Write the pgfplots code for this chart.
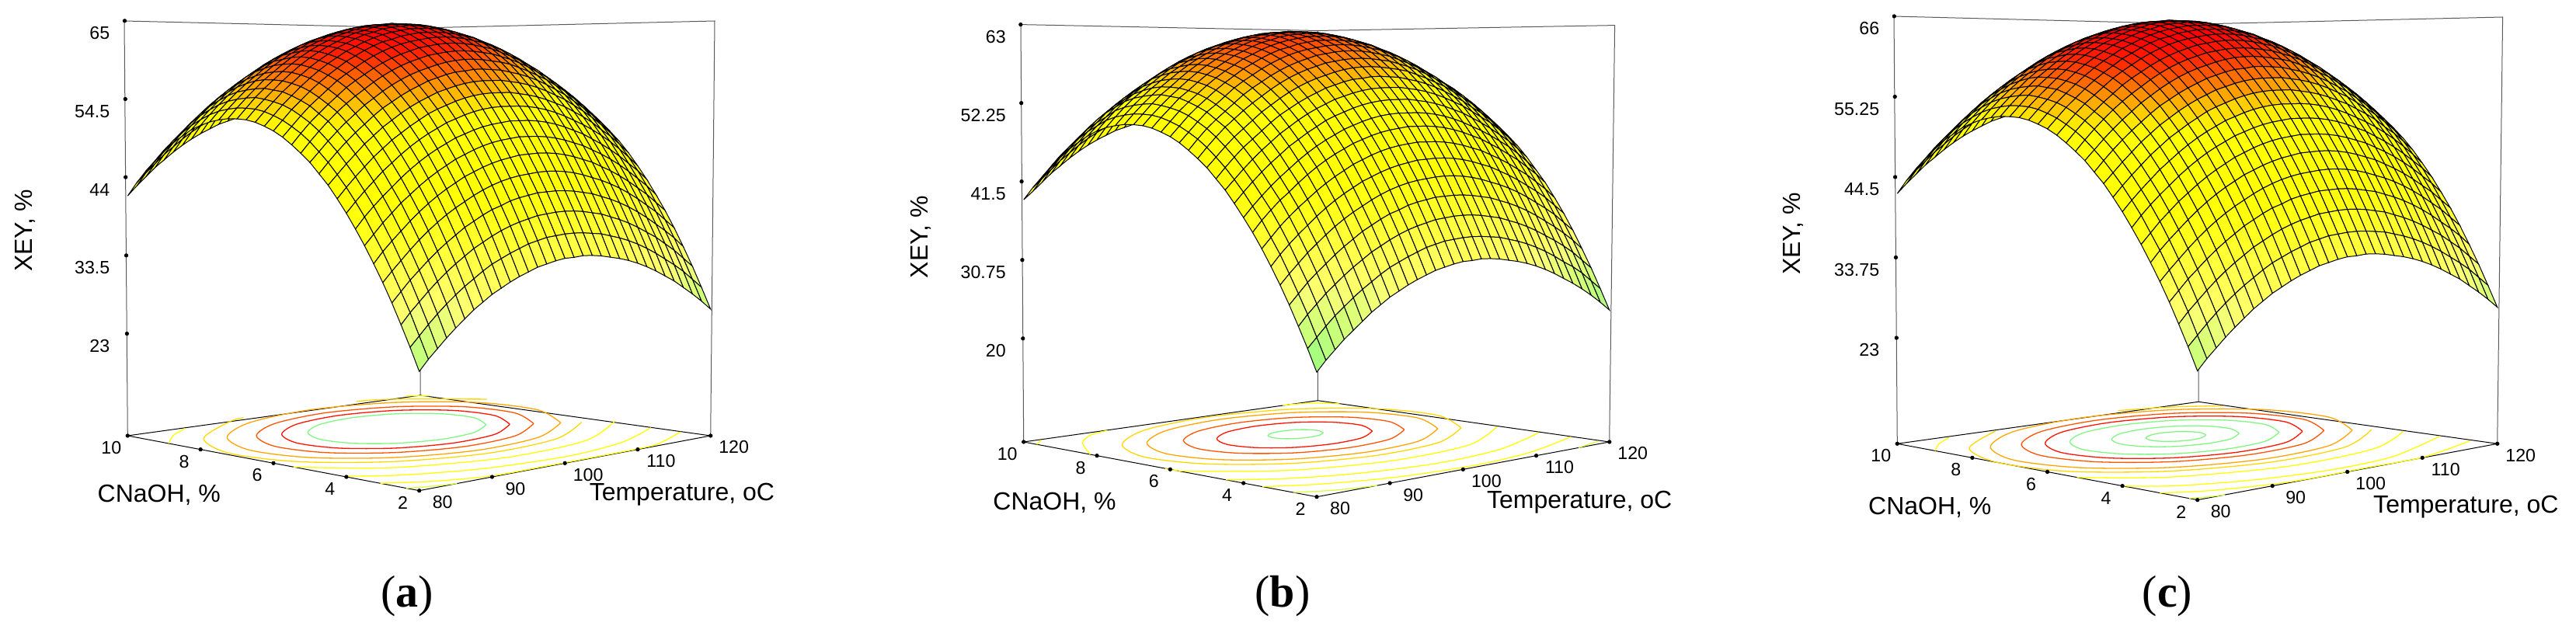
\documentclass[border=0pt]{standalone}
\usepackage{fontspec}
\setmainfont{Liberation Sans}
\newfontfamily\capfont{Liberation Serif}
\usepackage{pgfplots}
\pgfplotsset{compat=1.18}
\definecolor{ctgreen}{RGB}{130,245,130}
\definecolor{ctred}{RGB}{255,20,0}
\definecolor{ctorred}{RGB}{255,85,0}
\definecolor{ctorange}{RGB}{255,165,0}
\definecolor{ctgold}{RGB}{255,215,0}
\definecolor{ctyellow}{RGB}{255,255,0}
\definecolor{ctlime}{RGB}{215,255,60}
\tikzset{lab/.style={anchor=center, yshift=-1.5pt, font=\fontsize{16}{19}\selectfont}}
\pgfplotsset{
  colormap={xey}{rgb255=(120,255,120) rgb255=(153,255,127) rgb255=(181,255,127) rgb255=(204,255,122) rgb255=(225,255,120) rgb255=(245,255,120) rgb255=(255,255,102) rgb255=(255,255,85) rgb255=(255,255,68) rgb255=(255,255,47) rgb255=(255,255,30) rgb255=(255,255,15) rgb255=(255,255,0) rgb255=(255,255,0) rgb255=(255,255,0) rgb255=(255,255,0) rgb255=(255,255,0) rgb255=(255,225,0) rgb255=(255,162,0) rgb255=(255,98,0) rgb255=(255,32,0) rgb255=(255,0,0) rgb255=(255,0,0)},
  xeypanel/.style={
    anchor=origin, clip=false, axis line style={draw=none},
    xmin=80, xmax=120, ymin=2, ymax=10,
    xtick={80,90,100,110,120}, ytick={2,4,6,8,10},
    major tick length=0pt, tick style={draw=none},
    tick label style={font=\fontsize{11.6}{14}\selectfont, /pgf/number format/assume math mode=true},
    xticklabel style={anchor=center, xshift=15pt, yshift=-7.5pt},
    yticklabel style={anchor=center, xshift=-10.5pt, yshift=-7.8pt},
    zticklabel style={anchor=east, xshift=-8pt, yshift=-8pt},
    colormap name=xey, point meta min=22, point meta max=66,
    xlabel={Temperature, oC}, ylabel={CNaOH, \%}, zlabel={XEY, \%},
  },
  ct/.style={no marks, smooth, line width=0.65pt},
  dots/.style={only marks, mark=*, mark size=1.1pt, black},
  surface/.style={surf, shader=faceted, faceted color=black, line width=0.5pt, z buffer=sort, mesh/rows=33, mesh/cols=33},
}
\begin{document}
\begin{tikzpicture}
\useasboundingbox (0,0) rectangle (1658pt,412pt);
% box edges and floor outlines, in pixels of the 3316x824 picture
\begin{scope}[x=0.5pt,y=-0.5pt,yshift=412pt]
  \draw[gray!70!black,line width=0.5pt] (164.3,561) -- (160,27) -- (541,36) -- (920,27) -- (914.7,561) (541,36) -- (541,509);
  \draw[black,line width=0.5pt] (164.3,561) -- (541,509) -- (914.7,561) -- (539.7,631.7) -- cycle;
  \node[font=\capfont\fontsize{29}{34}\selectfont] at (524,768) {(\textbf{a})};
  \draw[gray!70!black,line width=0.5pt] (1317.7,569) -- (1314,31.6) -- (1696,39.5) -- (2078.6,32.6) -- (2071.7,569) (1696,39.5) -- (1696.3,515.7);
  \draw[black,line width=0.5pt] (1317.7,569) -- (1696.3,515.7) -- (2071.7,569) -- (1695,639.7) -- cycle;
  \node[font=\capfont\fontsize{29}{34}\selectfont] at (1651,768) {(\textbf{b})};
  \draw[gray!70!black,line width=0.5pt] (2442.3,571.3) -- (2438,21) -- (2830,31) -- (3221.6,22) -- (3214.7,571.3) (2830,31) -- (2830,517.3);
  \draw[black,line width=0.5pt] (2442.3,571.3) -- (2830,517.3) -- (3214.7,571.3) -- (2828.7,643.7) -- cycle;
  \node[font=\capfont\fontsize{29}{34}\selectfont] at (2790,768) {(\textbf{c})};
\end{scope}

% (a)
\begin{axis}[xeypanel,
  at={(269.85pt,96.15pt)},
  x={(4.6875pt,0.884pt)}, y={(-23.46pt,4.42pt)}, z={(0pt,4.795pt)},
  zmin=9.3, zmax=65, ztick={23,33.5,44,54.5,65}, zticklabels={23,33.5,44,54.5,65},
  every axis x label/.style={at={(axis cs:97.46,-1.72,9.3)},lab},
  every axis y label/.style={at={(axis cs:61.3,5.4,9.3)},lab},
  every axis z label/.style={at={(axis cs:52.96,7.41,44.23)},lab,yshift=1.5pt,rotate=90},
]
\addplot3[dots] coordinates {(80,2,9.3) (90,2,9.3) (100,2,9.3) (110,2,9.3) (120,2,9.3) (80,4,9.3) (80,6,9.3) (80,8,9.3) (80,10,9.3) (79.95,10.01,23) (79.91,10.02,33.5) (79.87,10.03,44) (79.83,10.03,54.5) (79.79,10.04,65)};
\addplot3[ct,ctgreen] coordinates {(108.65,5.89,9.3) (110.32,6.56,9.3) (109.53,7.29,9.3) (106.48,7.9,9.3) (101.99,8.23,9.3) (97.27,8.18,9.3) (93.57,7.77,9.3) (91.9,7.1,9.3) (92.69,6.37,9.3) (95.74,5.76,9.3) (100.23,5.43,9.3) (104.95,5.48,9.3) (108.65,5.89,9.3)};
\addplot3[ct,ctred] coordinates {(110.4,5.59,9.3) (112.54,6.44,9.3) (111.53,7.38,9.3) (107.62,8.16,9.3) (101.88,8.58,9.3) (95.83,8.52,9.3) (91.1,7.99,9.3) (88.96,7.14,9.3) (89.97,6.2,9.3) (93.88,5.42,9.3) (99.62,5,9.3) (105.67,5.06,9.3) (110.4,5.59,9.3)};
\addplot3[ct,ctorred] coordinates {(112.27,5.31,9.3) (114.87,6.35,9.3) (113.64,7.49,9.3) (108.9,8.43,9.3) (101.92,8.95,9.3) (94.58,8.87,9.3) (88.83,8.23,9.3) (86.23,7.19,9.3) (87.46,6.05,9.3) (92.2,5.11,9.3) (99.18,4.59,9.3) (106.52,4.67,9.3) (112.27,5.31,9.3)};
\addplot3[ct,ctorange] coordinates {(114.44,5,9.3) (117.56,6.26,9.3) (116.09,7.62,9.3) (110.38,8.76,9.3) (101.99,9.38,9.3) (93.16,9.28,9.3) (86.24,8.52,9.3) (83.12,7.26,9.3) (84.59,5.9,9.3) (90.3,4.76,9.3) (98.69,4.14,9.3) (107.52,4.24,9.3) (114.44,5,9.3)};
\addplot3[ct,ctgold] coordinates {(116.09,4.76,9.3) (108.25,3.89,9.3) (98.24,3.78,9.3) (88.73,4.48,9.3) (82.26,5.77,9.3) (80.58,7.32,9.3) (84.13,8.74,9.3) (91.97,9.61,9.3) (94.53,9.72,9.3)};
\addplot3[ct,ctgold] coordinates {(117.96,7.73,9.3) (111.49,9.02,9.3) (108.22,9.36,9.3)};
\addplot3[ct,ctyellow] coordinates {(118.76,4.38,9.3) (109.51,3.35,9.3) (97.71,3.23,9.3) (86.48,4.05,9.3) (80,5.45,9.3)};
\addplot3[ct,ctyellow] coordinates {(80,8.87,9.3) (83.2,9.39,9.3) (86.6,9.74,9.3)};
\addplot3[ct,ctyellow] coordinates {(113.6,9.08,9.3) (114.4,8.92,9.3) (115.2,8.76,9.3)};
\addplot3[ct,ctyellow] coordinates {(80.2,4.07,9.3) (83.36,3.52,9.3) (87.52,3.08,9.3) (93.31,2.68,9.3) (102.91,2.47,9.3) (111.41,2.73,9.3) (118.8,3.4,9.3)};
\addplot3[ct,ctyellow] coordinates {(80,3.07,9.3) (84.52,2.48,9.3) (90.33,2.08,9.3) (97.3,2.05,9.3) (104.72,2.04,9.3) (111.17,2.05,9.3) (113.87,2.16,9.3) (119.37,2.69,9.3)};
\addplot3[ct,ctlime] coordinates {(80,2.36,9.3) (81.94,2.18,9.3) (85.2,2,9.3)};
\addplot3[surface] table[x expr={80+1.25*mod(\coordindex,33)}, y expr={2+0.25*floor((\coordindex+0.5)/33)}, z index=0, header=false] {
25.3
26.7
27.9
29.1
30.2
31.2
32.2
33.0
33.8
34.4
35.0
35.5
35.9
36.3
36.5
36.7
36.8
36.7
36.7
36.5
36.2
35.8
35.4
34.9
34.3
33.6
32.8
31.9
31.0
29.9
28.8
27.6
26.3
28.3
29.6
30.9
32.1
33.2
34.2
35.1
35.9
36.7
37.4
37.9
38.4
38.8
39.2
39.4
39.6
39.6
39.6
39.5
39.3
39.0
38.7
38.2
37.7
37.1
36.4
35.6
34.7
33.7
32.7
31.6
30.3
29.0
31.1
32.5
33.7
34.9
36.0
37.0
37.9
38.7
39.5
40.1
40.7
41.2
41.6
41.9
42.1
42.3
42.3
42.3
42.2
42.0
41.7
41.3
40.9
40.3
39.7
39.0
38.2
37.3
36.4
35.3
34.2
32.9
31.6
33.8
35.1
36.4
37.5
38.6
39.6
40.5
41.3
42.1
42.7
43.3
43.8
44.1
44.5
44.7
44.8
44.9
44.8
44.7
44.5
44.2
43.8
43.4
42.8
42.2
41.5
40.7
39.8
38.8
37.7
36.6
35.4
34.0
36.3
37.6
38.8
40.0
41.1
42.1
43.0
43.8
44.5
45.1
45.7
46.2
46.6
46.9
47.1
47.2
47.2
47.2
47.1
46.9
46.6
46.2
45.7
45.1
44.5
43.8
43.0
42.1
41.1
40.0
38.9
37.6
36.3
38.6
40.0
41.2
42.3
43.4
44.4
45.3
46.1
46.8
47.4
48.0
48.4
48.8
49.1
49.3
49.4
49.5
49.4
49.3
49.1
48.8
48.4
47.9
47.3
46.7
45.9
45.1
44.2
43.2
42.1
41.0
39.7
38.4
40.8
42.1
43.4
44.5
45.6
46.5
47.4
48.2
48.9
49.5
50.1
50.5
50.9
51.2
51.4
51.5
51.5
51.5
51.3
51.1
50.8
50.4
49.9
49.3
48.7
47.9
47.1
46.2
45.2
44.1
42.9
41.7
40.3
42.8
44.2
45.4
46.5
47.5
48.5
49.4
50.2
50.9
51.5
52.0
52.5
52.8
53.1
53.3
53.4
53.4
53.4
53.2
53.0
52.7
52.3
51.8
51.2
50.5
49.8
48.9
48.0
47.0
45.9
44.7
43.5
42.1
44.7
46.0
47.2
48.3
49.4
50.3
51.2
52.0
52.7
53.3
53.8
54.3
54.6
54.9
55.1
55.2
55.2
55.1
54.9
54.7
54.4
54.0
53.5
52.9
52.2
51.4
50.6
49.7
48.7
47.6
46.4
45.1
43.7
46.4
47.7
48.9
50.0
51.1
52.0
52.9
53.6
54.3
54.9
55.5
55.9
56.2
56.5
56.7
56.8
56.8
56.7
56.5
56.3
55.9
55.5
55.0
54.4
53.7
53.0
52.1
51.2
50.2
49.0
47.9
46.6
45.2
48.0
49.2
50.4
51.5
52.6
53.5
54.4
55.1
55.8
56.4
56.9
57.3
57.7
57.9
58.1
58.2
58.2
58.1
57.9
57.7
57.3
56.9
56.4
55.8
55.1
54.3
53.5
52.5
51.5
50.4
49.2
47.9
46.5
49.3
50.6
51.8
52.9
53.9
54.8
55.7
56.5
57.1
57.7
58.2
58.6
59.0
59.2
59.4
59.5
59.4
59.4
59.2
58.9
58.6
58.1
57.6
57.0
56.3
55.5
54.6
53.7
52.6
51.5
50.3
49.0
47.6
50.6
51.8
53.0
54.1
55.1
56.0
56.9
57.6
58.3
58.9
59.4
59.8
60.1
60.3
60.5
60.6
60.6
60.5
60.3
60.0
59.6
59.2
58.7
58.0
57.3
56.5
55.7
54.7
53.7
52.5
51.3
50.0
48.6
51.6
52.9
54.1
55.2
56.2
57.1
57.9
58.6
59.3
59.9
60.4
60.8
61.1
61.3
61.5
61.5
61.5
61.4
61.2
60.9
60.5
60.1
59.5
58.9
58.2
57.4
56.5
55.6
54.5
53.4
52.2
50.9
49.5
52.5
53.8
55.0
56.0
57.0
57.9
58.8
59.5
60.1
60.7
61.2
61.6
61.9
62.1
62.3
62.3
62.3
62.2
62.0
61.7
61.3
60.8
60.3
59.6
58.9
58.1
57.2
56.3
55.2
54.1
52.8
51.5
50.1
53.3
54.5
55.7
56.8
57.7
58.6
59.5
60.2
60.8
61.4
61.9
62.3
62.6
62.8
62.9
62.9
62.9
62.8
62.6
62.3
61.9
61.4
60.9
60.2
59.5
58.7
57.8
56.8
55.7
54.6
53.4
52.0
50.6
53.9
55.1
56.3
57.3
58.3
59.2
60.0
60.7
61.4
61.9
62.4
62.8
63.1
63.2
63.4
63.4
63.4
63.2
63.0
62.7
62.3
61.8
61.3
60.6
59.9
59.1
58.2
57.2
56.1
54.9
53.7
52.4
51.0
54.3
55.5
56.7
57.7
58.7
59.6
60.4
61.1
61.7
62.3
62.7
63.1
63.4
63.6
63.7
63.7
63.7
63.5
63.3
63.0
62.6
62.1
61.5
60.9
60.1
59.3
58.4
57.4
56.3
55.1
53.9
52.6
51.1
54.6
55.8
56.9
58.0
58.9
59.8
60.6
61.3
61.9
62.5
62.9
63.3
63.6
63.7
63.9
63.9
63.8
63.7
63.4
63.1
62.7
62.2
61.6
61.0
60.2
59.4
58.5
57.5
56.4
55.2
53.9
52.6
51.2
54.7
55.9
57.0
58.0
59.0
59.9
60.7
61.4
62.0
62.5
62.9
63.3
63.6
63.7
63.9
63.9
63.8
63.6
63.4
63.1
62.7
62.2
61.6
60.9
60.1
59.3
58.4
57.4
56.3
55.1
53.8
52.5
51.0
54.6
55.8
57.0
58.0
58.9
59.8
60.6
61.3
61.9
62.4
62.8
63.2
63.4
63.6
63.7
63.7
63.6
63.5
63.2
62.9
62.5
61.9
61.4
60.7
59.9
59.1
58.1
57.1
56.0
54.8
53.5
52.2
50.7
54.4
55.6
56.7
57.7
58.7
59.5
60.3
61.0
61.6
62.1
62.5
62.9
63.1
63.3
63.4
63.4
63.3
63.1
62.9
62.5
62.1
61.6
61.0
60.3
59.5
58.6
57.7
56.7
55.6
54.4
53.1
51.7
50.3
54.0
55.2
56.3
57.3
58.3
59.1
59.9
60.5
61.1
61.6
62.1
62.4
62.6
62.8
62.9
62.9
62.8
62.6
62.3
62.0
61.6
61.0
60.4
59.7
58.9
58.1
57.1
56.1
55.0
53.8
52.5
51.1
49.6
53.5
54.7
55.8
56.8
57.7
58.5
59.3
60.0
60.6
61.0
61.5
61.8
62.0
62.2
62.3
62.2
62.1
62.0
61.7
61.3
60.9
60.3
59.7
59.0
58.2
57.4
56.4
55.4
54.2
53.0
51.7
50.3
48.9
52.8
54.0
55.1
56.1
57.0
57.8
58.6
59.2
59.8
60.3
60.7
61.0
61.2
61.4
61.5
61.4
61.3
61.1
60.8
60.5
60.0
59.5
58.9
58.1
57.4
56.5
55.5
54.5
53.3
52.1
50.8
49.4
47.9
52.0
53.1
54.2
55.2
56.1
56.9
57.7
58.3
58.9
59.4
59.8
60.1
60.3
60.4
60.5
60.5
60.3
60.1
59.9
59.5
59.0
58.5
57.8
57.1
56.3
55.4
54.5
53.4
52.3
51.0
49.7
48.3
46.8
50.9
52.1
53.2
54.2
55.1
55.9
56.6
57.2
57.8
58.3
58.7
59.0
59.2
59.3
59.4
59.3
59.2
59.0
58.7
58.3
57.9
57.3
56.7
55.9
55.1
54.2
53.2
52.2
51.0
49.8
48.5
47.1
45.6
49.8
50.9
52.0
53.0
53.9
54.7
55.4
56.0
56.6
57.0
57.4
57.7
57.9
58.1
58.1
58.1
57.9
57.7
57.4
57.0
56.5
56.0
55.3
54.6
53.8
52.9
51.9
50.8
49.6
48.4
47.1
45.7
44.2
48.4
49.6
50.6
51.6
52.5
53.3
54.0
54.6
55.2
55.6
56.0
56.3
56.5
56.6
56.7
56.6
56.5
56.2
55.9
55.5
55.0
54.5
53.8
53.1
52.2
51.3
50.3
49.3
48.1
46.8
45.5
44.1
42.6
46.9
48.1
49.1
50.1
51.0
51.8
52.5
53.1
53.6
54.1
54.4
54.7
54.9
55.0
55.1
55.0
54.8
54.6
54.3
53.9
53.4
52.8
52.2
51.4
50.6
49.7
48.7
47.6
46.4
45.1
43.8
42.4
40.8
45.3
46.4
47.5
48.4
49.3
50.1
50.8
51.4
51.9
52.4
52.7
53.0
53.2
53.3
53.3
53.2
53.1
52.8
52.5
52.1
51.6
51.0
50.3
49.6
48.7
47.8
46.8
45.7
44.5
43.3
41.9
40.5
38.9
43.5
44.6
45.6
46.6
47.4
48.2
48.9
49.5
50.0
50.5
50.8
51.1
51.3
51.4
51.4
51.3
51.1
50.9
50.6
50.1
49.6
49.0
48.4
47.6
46.7
45.8
44.8
43.7
42.5
41.2
39.9
38.4
36.9
41.5
42.6
43.6
44.6
45.4
46.2
46.9
47.5
48.0
48.4
48.8
49.0
49.2
49.3
49.3
49.2
49.0
48.8
48.4
48.0
47.5
46.9
46.2
45.4
44.6
43.6
42.6
41.5
40.3
39.0
37.7
36.2
34.7
};
\end{axis}

% (b)
\begin{axis}[xeypanel,
  at={(847.5pt,92.15pt)},
  x={(4.709pt,0.884pt)}, y={(-23.58pt,4.42pt)}, z={(0pt,4.7pt)},
  zmin=5.83, zmax=63, ztick={20,30.75,41.5,52.25,63}, zticklabels={20,30.75,41.5,52.25,63},
  every axis x label/.style={at={(axis cs:96.73,-1.83,5.83)},lab},
  every axis y label/.style={at={(axis cs:60.9,5.34,5.83)},lab},
  every axis z label/.style={at={(axis cs:52.95,7.41,41.44)},lab,yshift=1.5pt,rotate=90},
]
\addplot3[dots] coordinates {(80,2,5.83) (90,2,5.83) (100,2,5.83) (110,2,5.83) (120,2,5.83) (80,4,5.83) (80,6,5.83) (80,8,5.83) (80,10,5.83) (79.95,10.01,20) (79.91,10.02,30.75) (79.87,10.03,41.5) (79.83,10.03,52.25) (79.79,10.04,63)};
\addplot3[ct,ctgreen] coordinates {(103.77,6.57,5.83) (104.25,6.77,5.83) (103.97,6.99,5.83) (103,7.17,5.83) (101.6,7.26,5.83) (100.14,7.25,5.83) (99.03,7.13,5.83) (98.55,6.93,5.83) (98.83,6.71,5.83) (99.8,6.53,5.83) (101.2,6.44,5.83) (102.66,6.45,5.83) (103.77,6.57,5.83)};
\addplot3[ct,ctred] coordinates {(107.77,6.03,5.83) (109.13,6.59,5.83) (108.33,7.2,5.83) (105.58,7.72,5.83) (101.61,7.98,5.83) (97.49,7.94,5.83) (94.33,7.59,5.83) (92.97,7.03,5.83) (93.77,6.42,5.83) (96.52,5.9,5.83) (100.49,5.64,5.83) (104.61,5.68,5.83) (107.77,6.03,5.83)};
\addplot3[ct,ctorred] coordinates {(110.45,5.69,5.83) (112.38,6.49,5.83) (111.25,7.35,5.83) (107.34,8.09,5.83) (101.71,8.46,5.83) (95.85,8.4,5.83) (91.37,7.91,5.83) (89.44,7.11,5.83) (90.57,6.25,5.83) (94.48,5.51,5.83) (100.11,5.14,5.83) (105.97,5.2,5.83) (110.45,5.69,5.83)};
\addplot3[ct,ctorange] coordinates {(113.12,5.31,5.83) (115.66,6.36,5.83) (114.16,7.5,5.83) (109.02,8.46,5.83) (101.6,8.96,5.83) (93.89,8.88,5.83) (87.98,8.23,5.83) (85.44,7.18,5.83) (86.94,6.04,5.83) (92.08,5.08,5.83) (99.5,4.58,5.83) (107.21,4.66,5.83) (113.12,5.31,5.83)};
\addplot3[ct,ctgold] coordinates {(115,5.05,5.83) (117.96,6.27,5.83) (116.22,7.6,5.83) (110.23,8.72,5.83) (101.57,9.3,5.83) (92.59,9.21,5.83) (85.7,8.45,5.83) (82.74,7.23,5.83) (84.48,5.9,5.83) (90.47,4.78,5.83) (99.13,4.2,5.83) (108.11,4.29,5.83) (115,5.05,5.83)};
\addplot3[ct,ctyellow] coordinates {(117.98,4.66,5.83) (109.31,3.7,5.83) (98.35,3.6,5.83) (87.79,4.3,5.83) (80.48,5.67,5.83) (80,6.13,5.83)};
\addplot3[ct,ctyellow] coordinates {(80,8.18,5.83) (83.74,9.14,5.83) (87.15,9.59,5.83) (89.9,9.69,5.83)};
\addplot3[ct,ctyellow] coordinates {(111.08,9.14,5.83) (113.87,8.88,5.83) (115.45,8.45,5.83)};
\addplot3[ct,ctyellow] coordinates {(80,4.48,5.83) (84.74,3.73,5.83) (91.52,3.14,5.83) (100.48,2.8,5.83) (109.71,2.95,5.83) (118.48,3.63,5.83)};
\addplot3[ct,ctyellow] coordinates {(80,3.48,5.83) (84.91,2.88,5.83) (92.84,2.34,5.83) (102.45,2.14,5.83) (110.87,2.33,5.83) (119.13,2.89,5.83)};
\addplot3[ct,ctlime] coordinates {(80,2.64,5.83) (83.79,2.23,5.83) (88.27,2,5.83)};
\addplot3[ct,ctlime] coordinates {(115.79,2,5.83) (119.4,2.2,5.83)};
\addplot3[ct,ctyellow] coordinates {(80,9.64,5.83) (81.84,9.89,5.83)};
\addplot3[surface] table[x expr={80+1.25*mod(\coordindex,33)}, y expr={2+0.25*floor((\coordindex+0.5)/33)}, z index=0, header=false] {
22.9
24.3
25.5
26.7
27.7
28.7
29.7
30.5
31.3
31.9
32.5
33.0
33.4
33.8
34.0
34.2
34.3
34.2
34.2
34.0
33.7
33.3
32.9
32.4
31.8
31.1
30.3
29.4
28.5
27.5
26.4
25.2
23.9
25.9
27.2
28.5
29.7
30.7
31.7
32.6
33.4
34.2
34.9
35.4
35.9
36.3
36.7
36.9
37.1
37.1
37.1
37.0
36.8
36.5
36.2
35.7
35.2
34.6
33.9
33.1
32.2
31.2
30.3
29.2
27.9
26.6
28.7
30.1
31.3
32.5
33.5
34.5
35.4
36.2
37.0
37.6
38.2
38.7
39.1
39.4
39.6
39.8
39.8
39.8
39.7
39.5
39.2
38.8
38.4
37.8
37.2
36.5
35.7
34.8
33.9
32.9
31.8
30.5
29.2
31.4
32.7
34.0
35.1
36.1
37.1
38.0
38.8
39.6
40.2
40.8
41.3
41.6
42.0
42.2
42.3
42.4
42.3
42.2
42.0
41.7
41.3
40.9
40.3
39.7
39.0
38.2
37.3
36.3
35.3
34.2
33.0
31.6
33.9
35.2
36.4
37.6
38.6
39.6
40.5
41.3
42.0
42.6
43.2
43.7
44.1
44.4
44.6
44.7
44.7
44.7
44.6
44.4
44.1
43.7
43.2
42.6
42.0
41.3
40.5
39.6
38.6
37.6
36.5
35.2
33.9
36.2
37.6
38.8
39.9
40.9
41.9
42.8
43.6
44.3
44.9
45.5
45.9
46.3
46.6
46.8
46.9
47.0
46.9
46.8
46.6
46.3
45.9
45.4
44.8
44.2
43.4
42.6
41.7
40.7
39.7
38.6
37.3
36.0
38.4
39.7
41.0
42.1
43.1
44.0
44.9
45.7
46.4
47.0
47.6
48.0
48.4
48.7
48.9
49.0
49.0
49.0
48.8
48.6
48.3
47.9
47.4
46.8
46.2
45.4
44.6
43.7
42.7
41.7
40.5
39.3
37.9
40.4
41.8
43.0
44.1
45.0
46.0
46.9
47.7
48.4
49.0
49.5
50.0
50.3
50.6
50.8
50.9
50.9
50.9
50.7
50.5
50.2
49.8
49.3
48.7
48.0
47.3
46.4
45.5
44.5
43.5
42.3
41.1
39.7
42.2
43.5
44.7
45.8
46.8
47.7
48.6
49.4
50.1
50.7
51.2
51.7
52.0
52.3
52.5
52.6
52.6
52.5
52.3
52.1
51.8
51.4
50.9
50.3
49.6
48.8
48.0
47.1
46.1
45.1
43.9
42.6
41.2
43.9
45.2
46.4
47.5
48.5
49.4
50.3
51.0
51.7
52.3
52.9
53.3
53.6
53.9
54.1
54.2
54.2
54.1
53.9
53.7
53.3
52.9
52.4
51.8
51.1
50.4
49.5
48.6
47.6
46.5
45.4
44.1
42.7
45.5
46.7
47.9
49.0
50.0
50.9
51.8
52.5
53.2
53.8
54.3
54.7
55.1
55.3
55.5
55.6
55.6
55.5
55.3
55.1
54.7
54.3
53.8
53.2
52.5
51.7
50.9
49.9
48.9
47.9
46.7
45.4
44.0
46.8
48.1
49.3
50.4
51.3
52.2
53.1
53.9
54.5
55.1
55.6
56.0
56.4
56.6
56.8
56.9
56.8
56.8
56.6
56.3
56.0
55.5
55.0
54.4
53.7
52.9
52.0
51.1
50.0
49.0
47.8
46.5
45.1
48.1
49.3
50.5
51.6
52.5
53.4
54.3
55.0
55.7
56.3
56.8
57.2
57.5
57.7
57.9
58.0
58.0
57.9
57.7
57.4
57.0
56.6
56.1
55.4
54.7
53.9
53.1
52.1
51.1
50.0
48.8
47.5
46.1
49.1
50.4
51.6
52.7
53.6
54.5
55.3
56.0
56.7
57.3
57.8
58.2
58.5
58.7
58.9
58.9
58.9
58.8
58.6
58.3
57.9
57.5
56.9
56.3
55.6
54.8
53.9
53.0
51.9
50.9
49.7
48.4
47.0
50.0
51.3
52.5
53.5
54.4
55.3
56.2
56.9
57.5
58.1
58.6
59.0
59.3
59.5
59.7
59.7
59.7
59.6
59.4
59.1
58.7
58.2
57.7
57.0
56.3
55.5
54.6
53.7
52.6
51.6
50.3
49.0
47.6
50.8
52.0
53.2
54.3
55.1
56.0
56.9
57.6
58.2
58.8
59.3
59.7
60.0
60.2
60.3
60.3
60.3
60.2
60.0
59.7
59.3
58.8
58.3
57.6
56.9
56.1
55.2
54.2
53.1
52.1
50.9
49.5
48.1
51.4
52.6
53.8
54.8
55.7
56.6
57.4
58.1
58.8
59.3
59.8
60.2
60.5
60.6
60.8
60.8
60.8
60.6
60.4
60.1
59.7
59.2
58.7
58.0
57.3
56.5
55.6
54.6
53.5
52.4
51.2
49.9
48.5
51.8
53.0
54.2
55.2
56.1
57.0
57.8
58.5
59.1
59.7
60.1
60.5
60.8
61.0
61.1
61.1
61.1
60.9
60.7
60.4
60.0
59.5
58.9
58.3
57.5
56.7
55.8
54.8
53.7
52.6
51.4
50.1
48.6
52.1
53.3
54.4
55.5
56.3
57.2
58.0
58.7
59.3
59.9
60.3
60.7
61.0
61.1
61.3
61.3
61.2
61.1
60.8
60.5
60.1
59.6
59.0
58.4
57.6
56.8
55.9
54.9
53.8
52.7
51.4
50.1
48.7
52.2
53.4
54.5
55.5
56.4
57.3
58.1
58.8
59.4
59.9
60.3
60.7
61.0
61.1
61.3
61.3
61.2
61.0
60.8
60.5
60.1
59.6
59.0
58.3
57.5
56.7
55.8
54.8
53.7
52.6
51.3
50.0
48.5
52.1
53.3
54.5
55.5
56.3
57.2
58.0
58.7
59.3
59.8
60.2
60.6
60.8
61.0
61.1
61.1
61.0
60.9
60.6
60.3
59.9
59.3
58.8
58.1
57.3
56.5
55.5
54.5
53.4
52.3
51.0
49.7
48.2
51.9
53.1
54.2
55.2
56.1
56.9
57.7
58.4
59.0
59.5
59.9
60.3
60.5
60.7
60.8
60.8
60.7
60.5
60.3
59.9
59.5
59.0
58.4
57.7
56.9
56.0
55.1
54.1
53.0
51.9
50.6
49.2
47.8
51.5
52.7
53.8
54.8
55.7
56.5
57.3
57.9
58.5
59.0
59.5
59.8
60.0
60.2
60.3
60.3
60.2
60.0
59.7
59.4
59.0
58.4
57.8
57.1
56.3
55.5
54.5
53.5
52.4
51.3
50.0
48.6
47.1
51.0
52.2
53.3
54.3
55.1
55.9
56.7
57.4
58.0
58.4
58.9
59.2
59.4
59.6
59.7
59.6
59.5
59.4
59.1
58.7
58.3
57.7
57.1
56.4
55.6
54.8
53.8
52.8
51.6
50.5
49.2
47.8
46.4
50.3
51.5
52.6
53.6
54.4
55.2
56.0
56.6
57.2
57.7
58.1
58.4
58.6
58.8
58.9
58.8
58.7
58.5
58.2
57.9
57.4
56.9
56.3
55.5
54.8
53.9
52.9
51.9
50.7
49.6
48.3
46.9
45.4
49.4
50.5
51.5
52.6
53.4
54.2
55.0
55.6
56.2
56.7
57.1
57.4
57.6
57.7
57.8
57.8
57.6
57.4
57.2
56.8
56.3
55.8
55.1
54.4
53.6
52.7
51.8
50.7
49.6
48.4
47.1
45.7
44.3
48.3
49.5
50.5
51.6
52.4
53.2
53.9
54.5
55.1
55.6
56.0
56.3
56.5
56.6
56.7
56.6
56.5
56.3
56.0
55.6
55.2
54.6
54.0
53.2
52.4
51.5
50.5
49.5
48.3
47.2
45.9
44.5
43.0
47.2
48.3
49.4
50.4
51.2
52.0
52.7
53.3
53.9
54.3
54.7
55.0
55.2
55.4
55.4
55.4
55.2
55.0
54.7
54.3
53.8
53.3
52.6
51.9
51.1
50.2
49.2
48.1
46.9
45.8
44.5
43.1
41.6
45.8
47.0
48.0
49.0
49.8
50.6
51.3
51.9
52.5
52.9
53.3
53.6
53.8
53.9
54.0
53.9
53.8
53.5
53.2
52.8
52.3
51.8
51.1
50.4
49.5
48.6
47.6
46.6
45.4
44.2
42.9
41.5
39.9
44.3
45.5
46.5
47.5
48.3
49.1
49.8
50.4
50.9
51.4
51.7
52.0
52.2
52.3
52.4
52.3
52.1
51.9
51.6
51.2
50.7
50.1
49.5
48.7
47.9
47.0
46.0
44.9
43.7
42.6
41.3
39.9
38.3
42.6
43.7
44.8
45.7
46.5
47.3
48.0
48.6
49.1
49.6
49.9
50.2
50.4
50.5
50.5
50.4
50.3
50.1
49.8
49.4
48.9
48.3
47.6
46.9
46.0
45.1
44.1
43.0
41.8
40.6
39.3
37.8
36.3
40.9
41.9
42.9
43.9
44.7
45.5
46.2
46.8
47.3
47.7
48.1
48.3
48.5
48.6
48.6
48.5
48.3
48.1
47.7
47.3
46.8
46.2
45.5
44.7
43.9
42.9
41.9
40.8
39.6
38.4
37.1
35.6
34.1
39.0
39.9
40.9
41.9
42.7
43.5
44.2
44.8
45.3
45.7
46.1
46.3
46.5
46.6
46.6
46.5
46.3
46.1
45.7
45.3
44.8
44.2
43.5
42.7
41.9
40.9
39.9
38.8
37.6
36.4
35.1
33.6
32.1
};
\end{axis}

% (c)
\begin{axis}[xeypanel,
  at={(1414.35pt,90.15pt)},
  x={(4.825pt,0.905pt)}, y={(-24.15pt,4.525pt)}, z={(0pt,4.815pt)},
  zmin=8.85, zmax=66, ztick={23,33.75,44.5,55.25,66}, zticklabels={23,33.75,44.5,55.25,66},
  every axis x label/.style={at={(axis cs:96.15,-1.93,8.85)},lab},
  every axis y label/.style={at={(axis cs:60.43,5.22,8.85)},lab},
  every axis z label/.style={at={(axis cs:53.07,7.39,44.44)},lab,yshift=1.5pt,rotate=90},
]
\addplot3[dots] coordinates {(80,2,8.85) (90,2,8.85) (100,2,8.85) (110,2,8.85) (120,2,8.85) (80,4,8.85) (80,6,8.85) (80,8,8.85) (80,10,8.85) (79.95,10.01,23) (79.91,10.02,33.75) (79.87,10.03,44.5) (79.83,10.03,55.25) (79.79,10.04,66)};
\addplot3[ct,ctgreen] coordinates {(103.65,6.5,8.85) (104.16,6.71,8.85) (103.87,6.94,8.85) (102.85,7.14,8.85) (101.37,7.25,8.85) (99.84,7.23,8.85) (98.65,7.1,8.85) (98.14,6.89,8.85) (98.43,6.66,8.85) (99.45,6.46,8.85) (100.93,6.35,8.85) (102.46,6.37,8.85) (103.65,6.5,8.85)};
\addplot3[ct,ctgreen] coordinates {(106.47,6.18,8.85) (107.57,6.62,8.85) (106.94,7.12,8.85) (104.78,7.54,8.85) (101.65,7.76,8.85) (98.4,7.74,8.85) (95.89,7.46,8.85) (94.79,7.02,8.85) (95.42,6.52,8.85) (97.58,6.1,8.85) (100.71,5.88,8.85) (103.96,5.9,8.85) (106.47,6.18,8.85)};
\addplot3[ct,ctgreen] coordinates {(109.56,5.73,8.85) (111.37,6.46,8.85) (110.34,7.28,8.85) (106.78,7.97,8.85) (101.62,8.33,8.85) (96.27,8.29,8.85) (92.14,7.83,8.85) (90.33,7.1,8.85) (91.36,6.28,8.85) (94.92,5.59,8.85) (100.08,5.23,8.85) (105.43,5.27,8.85) (109.56,5.73,8.85)};
\addplot3[ct,ctred] coordinates {(111.43,5.48,8.85) (113.65,6.37,8.85) (112.39,7.38,8.85) (108.01,8.23,8.85) (101.67,8.68,8.85) (95.09,8.63,8.85) (90.01,8.06,8.85) (87.79,7.17,8.85) (89.05,6.16,8.85) (93.43,5.31,8.85) (99.77,4.86,8.85) (106.35,4.91,8.85) (111.43,5.48,8.85)};
\addplot3[ct,ctorred] coordinates {(113.15,5.25,8.85) (115.76,6.3,8.85) (114.28,7.49,8.85) (109.13,8.49,8.85) (101.68,9.01,8.85) (93.96,8.95,8.85) (87.99,8.29,8.85) (85.38,7.24,8.85) (86.86,6.05,8.85) (92.01,5.05,8.85) (99.46,4.53,8.85) (107.18,4.59,8.85) (113.15,5.25,8.85)};
\addplot3[ct,ctorange] coordinates {(115.12,4.89,8.85) (118.24,6.15,8.85) (116.47,7.57,8.85) (110.32,8.76,8.85) (101.42,9.39,8.85) (92.19,9.32,8.85) (85.06,8.53,8.85) (81.94,7.27,8.85) (83.71,5.85,8.85) (89.86,4.66,8.85) (98.76,4.03,8.85) (107.99,4.1,8.85) (115.12,4.89,8.85)};
\addplot3[ct,ctgold] coordinates {(116.56,4.67,8.85) (108.63,3.79,8.85) (98.37,3.71,8.85) (88.48,4.41,8.85) (81.64,5.73,8.85) (80,7.31,8.85) (83.14,8.71,8.85) (91.07,9.59,8.85)};
\addplot3[ct,ctgold] coordinates {(115.16,8.36,8.85) (111.22,8.97,8.85) (106.51,9.41,8.85)};
\addplot3[ct,ctyellow] coordinates {(118.02,4.12,8.85) (109.83,3.28,8.85) (97.83,3.19,8.85) (86.26,4,8.85) (80,5.21,8.85)};
\addplot3[ct,ctyellow] coordinates {(80,8.99,8.85) (82.56,9.41,8.85) (85.65,9.75,8.85)};
\addplot3[ct,ctyellow] coordinates {(80,3.98,8.85) (83.54,3.3,8.85) (90.79,2.68,8.85) (99.57,2.36,8.85) (108.46,2.48,8.85) (118.82,3.3,8.85)};
\addplot3[ct,ctyellow] coordinates {(80,3,8.85) (84.53,2.47,8.85) (92.83,2.05,8.85) (103.13,2.04,8.85) (110.34,2.03,8.85) (119.17,2.57,8.85)};
\addplot3[ct,ctlime] coordinates {(80,2.22,8.85) (81.61,2.09,8.85) (83.63,2,8.85)};
\addplot3[surface] table[x expr={80+1.25*mod(\coordindex,33)}, y expr={2+0.25*floor((\coordindex+0.5)/33)}, z index=0, header=false] {
26.1
27.5
28.7
29.9
31.0
32.0
33.0
33.8
34.6
35.2
35.8
36.3
36.7
37.1
37.3
37.5
37.6
37.5
37.5
37.3
37.0
36.6
36.2
35.7
35.1
34.4
33.6
32.7
31.8
30.7
29.6
28.4
27.1
29.1
30.4
31.7
32.9
34.0
35.0
35.9
36.7
37.5
38.2
38.7
39.2
39.6
40.0
40.2
40.4
40.4
40.4
40.3
40.1
39.8
39.5
39.0
38.5
37.9
37.2
36.4
35.5
34.5
33.5
32.4
31.1
29.8
31.9
33.3
34.5
35.7
36.8
37.8
38.7
39.5
40.3
40.9
41.5
42.0
42.4
42.7
42.9
43.1
43.1
43.1
43.0
42.8
42.5
42.1
41.7
41.1
40.5
39.8
39.0
38.1
37.2
36.1
35.0
33.7
32.4
34.6
35.9
37.2
38.3
39.4
40.4
41.3
42.1
42.9
43.5
44.1
44.6
44.9
45.3
45.5
45.6
45.7
45.6
45.5
45.3
45.0
44.6
44.2
43.6
43.0
42.3
41.5
40.6
39.6
38.5
37.4
36.2
34.8
37.1
38.4
39.6
40.8
41.9
42.9
43.8
44.6
45.3
45.9
46.5
47.0
47.4
47.7
47.9
48.0
48.0
48.0
47.9
47.7
47.4
47.0
46.5
45.9
45.3
44.6
43.8
42.9
41.9
40.8
39.7
38.4
37.1
39.4
40.8
42.0
43.1
44.2
45.2
46.1
46.9
47.6
48.2
48.8
49.2
49.6
49.9
50.1
50.2
50.3
50.2
50.1
49.9
49.6
49.2
48.7
48.1
47.5
46.7
45.9
45.0
44.0
42.9
41.8
40.5
39.2
41.6
42.9
44.2
45.3
46.4
47.3
48.2
49.0
49.7
50.3
50.9
51.3
51.7
52.0
52.2
52.3
52.3
52.3
52.1
51.9
51.6
51.2
50.7
50.1
49.5
48.7
47.9
47.0
46.0
44.9
43.7
42.5
41.1
43.6
45.0
46.2
47.3
48.3
49.3
50.2
51.0
51.7
52.3
52.8
53.3
53.6
53.9
54.1
54.2
54.2
54.2
54.0
53.8
53.5
53.1
52.6
52.0
51.3
50.6
49.7
48.8
47.8
46.7
45.5
44.3
42.9
45.5
46.8
48.0
49.1
50.2
51.1
52.0
52.8
53.5
54.1
54.6
55.1
55.4
55.7
55.9
56.0
56.0
55.9
55.7
55.5
55.2
54.8
54.3
53.7
53.0
52.2
51.4
50.5
49.5
48.4
47.2
45.9
44.5
47.2
48.5
49.7
50.8
51.9
52.8
53.7
54.4
55.1
55.7
56.3
56.7
57.0
57.3
57.5
57.6
57.6
57.5
57.3
57.1
56.7
56.3
55.8
55.2
54.5
53.8
52.9
52.0
51.0
49.8
48.7
47.4
46.0
48.8
50.0
51.2
52.3
53.4
54.3
55.2
55.9
56.6
57.2
57.7
58.1
58.5
58.7
58.9
59.0
59.0
58.9
58.7
58.5
58.1
57.7
57.2
56.6
55.9
55.1
54.3
53.3
52.3
51.2
50.0
48.7
47.3
50.1
51.4
52.6
53.7
54.7
55.6
56.5
57.3
57.9
58.5
59.0
59.4
59.8
60.0
60.2
60.3
60.2
60.2
60.0
59.7
59.4
58.9
58.4
57.8
57.1
56.3
55.4
54.5
53.4
52.3
51.1
49.8
48.4
51.4
52.6
53.8
54.9
55.9
56.8
57.7
58.4
59.1
59.7
60.2
60.6
60.9
61.1
61.3
61.4
61.4
61.3
61.1
60.8
60.4
60.0
59.5
58.8
58.1
57.3
56.5
55.5
54.5
53.3
52.1
50.8
49.4
52.4
53.7
54.9
56.0
57.0
57.9
58.7
59.4
60.1
60.7
61.2
61.6
61.9
62.1
62.3
62.3
62.3
62.2
62.0
61.7
61.3
60.9
60.3
59.7
59.0
58.2
57.3
56.4
55.3
54.2
53.0
51.7
50.3
53.3
54.6
55.8
56.8
57.8
58.7
59.6
60.3
60.9
61.5
62.0
62.4
62.7
62.9
63.1
63.1
63.1
63.0
62.8
62.5
62.1
61.6
61.1
60.4
59.7
58.9
58.0
57.1
56.0
54.9
53.6
52.3
50.9
54.1
55.3
56.5
57.6
58.5
59.4
60.3
61.0
61.6
62.2
62.7
63.1
63.4
63.6
63.7
63.7
63.7
63.6
63.4
63.1
62.7
62.2
61.7
61.0
60.3
59.5
58.6
57.6
56.5
55.4
54.2
52.8
51.4
54.7
55.9
57.1
58.1
59.1
60.0
60.8
61.5
62.2
62.7
63.2
63.6
63.9
64.0
64.2
64.2
64.2
64.0
63.8
63.5
63.1
62.6
62.1
61.4
60.7
59.9
59.0
58.0
56.9
55.7
54.5
53.2
51.8
55.1
56.3
57.5
58.5
59.5
60.4
61.2
61.9
62.5
63.1
63.5
63.9
64.2
64.4
64.5
64.5
64.5
64.3
64.1
63.8
63.4
62.9
62.3
61.7
60.9
60.1
59.2
58.2
57.1
55.9
54.7
53.4
51.9
55.4
56.6
57.7
58.8
59.7
60.6
61.4
62.1
62.7
63.3
63.7
64.1
64.4
64.5
64.7
64.7
64.6
64.5
64.2
63.9
63.5
63.0
62.4
61.8
61.0
60.2
59.3
58.3
57.2
56.0
54.7
53.4
52.0
55.5
56.7
57.8
58.8
59.8
60.7
61.5
62.2
62.8
63.3
63.7
64.1
64.4
64.5
64.7
64.7
64.6
64.4
64.2
63.9
63.5
63.0
62.4
61.7
60.9
60.1
59.2
58.2
57.1
55.9
54.6
53.3
51.8
55.4
56.6
57.8
58.8
59.7
60.6
61.4
62.1
62.7
63.2
63.6
64.0
64.2
64.4
64.5
64.5
64.4
64.3
64.0
63.7
63.3
62.7
62.2
61.5
60.7
59.9
58.9
57.9
56.8
55.6
54.3
53.0
51.5
55.2
56.4
57.5
58.5
59.5
60.3
61.1
61.8
62.4
62.9
63.3
63.7
63.9
64.1
64.2
64.2
64.1
63.9
63.7
63.3
62.9
62.4
61.8
61.1
60.3
59.4
58.5
57.5
56.4
55.2
53.9
52.5
51.1
54.8
56.0
57.1
58.1
59.1
59.9
60.7
61.3
61.9
62.4
62.9
63.2
63.4
63.6
63.7
63.7
63.6
63.4
63.1
62.8
62.4
61.8
61.2
60.5
59.7
58.9
57.9
56.9
55.8
54.6
53.3
51.9
50.4
54.3
55.5
56.6
57.6
58.5
59.3
60.1
60.8
61.4
61.8
62.3
62.6
62.8
63.0
63.1
63.0
62.9
62.8
62.5
62.1
61.7
61.1
60.5
59.8
59.0
58.2
57.2
56.2
55.0
53.8
52.5
51.1
49.7
53.6
54.8
55.9
56.9
57.8
58.6
59.4
60.0
60.6
61.1
61.5
61.8
62.0
62.2
62.3
62.2
62.1
61.9
61.6
61.3
60.8
60.3
59.7
58.9
58.2
57.3
56.3
55.3
54.1
52.9
51.6
50.2
48.7
52.8
53.9
55.0
56.0
56.9
57.7
58.5
59.1
59.7
60.2
60.6
60.9
61.1
61.2
61.3
61.3
61.1
60.9
60.7
60.3
59.8
59.3
58.6
57.9
57.1
56.2
55.3
54.2
53.1
51.8
50.5
49.1
47.6
51.7
52.9
54.0
55.0
55.9
56.7
57.4
58.0
58.6
59.1
59.5
59.8
60.0
60.1
60.2
60.1
60.0
59.8
59.5
59.1
58.7
58.1
57.5
56.7
55.9
55.0
54.0
53.0
51.8
50.6
49.3
47.9
46.4
50.6
51.7
52.8
53.8
54.7
55.5
56.2
56.8
57.4
57.8
58.2
58.5
58.7
58.9
58.9
58.9
58.7
58.5
58.2
57.8
57.3
56.8
56.1
55.4
54.6
53.7
52.7
51.6
50.4
49.2
47.9
46.5
45.0
49.2
50.4
51.4
52.4
53.3
54.1
54.8
55.4
56.0
56.4
56.8
57.1
57.3
57.4
57.5
57.4
57.3
57.0
56.7
56.3
55.8
55.3
54.6
53.9
53.0
52.1
51.1
50.1
48.9
47.6
46.3
44.9
43.4
47.7
48.9
49.9
50.9
51.8
52.6
53.3
53.9
54.4
54.9
55.2
55.5
55.7
55.8
55.9
55.8
55.6
55.4
55.1
54.7
54.2
53.6
53.0
52.2
51.4
50.5
49.5
48.4
47.2
45.9
44.6
43.2
41.6
46.1
47.2
48.3
49.2
50.1
50.9
51.6
52.2
52.7
53.2
53.5
53.8
54.0
54.1
54.1
54.0
53.9
53.6
53.3
52.9
52.4
51.8
51.1
50.4
49.5
48.6
47.6
46.5
45.3
44.1
42.7
41.3
39.7
44.3
45.4
46.4
47.4
48.2
49.0
49.7
50.3
50.8
51.3
51.6
51.9
52.1
52.2
52.2
52.1
51.9
51.7
51.4
50.9
50.4
49.8
49.2
48.4
47.5
46.6
45.6
44.5
43.3
42.0
40.7
39.2
37.7
42.3
43.4
44.4
45.4
46.2
47.0
47.7
48.3
48.8
49.2
49.6
49.8
50.0
50.1
50.1
50.0
49.8
49.6
49.2
48.8
48.3
47.7
47.0
46.2
45.4
44.4
43.4
42.3
41.1
39.8
38.5
37.0
35.5
};
\end{axis}
\end{tikzpicture}
\end{document}
